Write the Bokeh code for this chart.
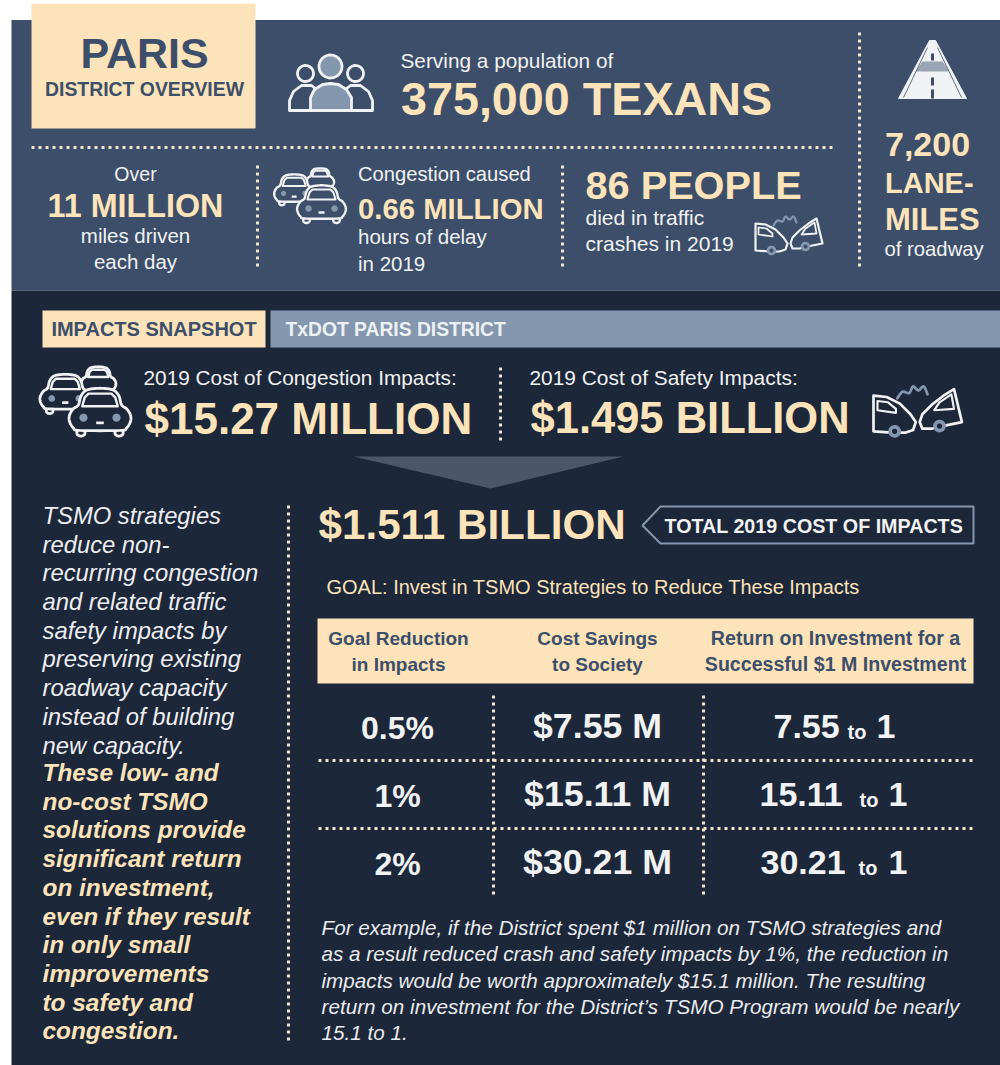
import numpy as np
from bokeh.plotting import figure
from bokeh.models import Range1d
from bokeh.core.properties import value
from bokeh.embed import file_html
from bokeh.resources import INLINE

# ---- content ----
DISTRICT = "PARIS"
DISTRICT_SUB = "DISTRICT OVERVIEW"
POP_LABEL = "Serving a population of"
POP_VALUE = "375,000 TEXANS"
MILES_LINES = ["Over", "11 MILLION", "miles driven", "each day"]
DELAY_LINES = ["Congestion caused", "0.66 MILLION", "hours of delay", "in 2019"]
DEATH_LINES = ["86 PEOPLE", "died in traffic", "crashes in 2019"]
LANE_LINES = ["7,200", "LANE-", "MILES", "of roadway"]
SNAPSHOT = "IMPACTS SNAPSHOT"
SNAPSHOT_DISTRICT = "TxDOT PARIS DISTRICT"
COST_LABELS = ["2019 Cost of Congestion Impacts:", "2019 Cost of Safety Impacts:"]
COST_VALUES = ["$15.27 MILLION", "$1.495 BILLION"]
TOTAL_VALUE = "$1.511 BILLION"
TOTAL_LABEL = "TOTAL 2019 COST OF IMPACTS"
GOAL = "GOAL: Invest in TSMO Strategies to Reduce These Impacts"
HEAD_1 = ["Goal Reduction", "in Impacts"]
HEAD_2 = ["Cost Savings", "to Society"]
HEAD_3 = ["Return on Investment for a", "Successful $1 M Investment"]
REDUCTION = ["0.5%", "1%", "2%"]
SAVINGS = ["$7.55 M", "$15.11 M", "$30.21 M"]
ROI = ["7.55", "15.11", "30.21"]
SIDE_PLAIN = ["TSMO strategies", "reduce non-", "recurring congestion", "and related traffic",
              "safety impacts by", "preserving existing", "roadway capacity",
              "instead of building", "new capacity."]
SIDE_BOLD = ["These low- and", "no-cost TSMO", "solutions provide", "significant return",
             "on investment,", "even if they result", "in only small", "improvements",
             "to safety and", "congestion."]
NOTE = ["For example, if the District spent $1 million on TSMO strategies and",
        "as a result reduced crash and safety impacts by 1%, the reduction in",
        "impacts would be worth approximately $15.1 million. The resulting",
        "return on investment for the District\u2019s TSMO Program would be nearly",
        "15.1 to 1."]

# ---- palette ----
SLATE = "#3c4e69"
NAVY = "#1c2739"
CREAM = "#fde3b9"
STEEL = "#8497ae"
WHITE = "#f1f2f3"
DOT = "#f3e6cc"
FONT = "Liberation Sans"

p = figure(width=1000, height=1065, x_range=Range1d(0, 1000), y_range=Range1d(1065, 0),
           x_axis_type=None, y_axis_type=None, toolbar_location=None, output_backend="svg",
           min_border=0, outline_line_color=None, background_fill_color="#ffffff",
           border_fill_color="#ffffff")
p.grid.visible = False


def T(x, y, text, size, color=WHITE, style="normal", align="left"):
    p.text(x=[x], y=[y - 0.37 * size], text=[text], text_font=value(FONT),
           text_font_size=f"{size}px", text_color=color, text_font_style=style,
           text_align=align, text_baseline="alphabetic")


def box(x0, y0, x1, y1, color):
    p.quad(left=[x0], right=[x1], top=[y0], bottom=[y1], fill_color=color, line_color=None)


def dots(xs, ys, color=DOT, w=3):
    p.line(x=xs, y=ys, line_color=color, line_width=w, line_dash="3 4")


def smooth(pts, closed=True, n=8):
    pts = np.array(pts, float)
    if closed:
        P = np.vstack([pts[-1], pts, pts[0], pts[1]])
    else:
        P = np.vstack([pts[0], pts, pts[-1]])
    out = []
    for i in range(1, len(P) - 2):
        for t in np.linspace(0, 1, n, endpoint=False):
            a, b, c, d = P[i - 1], P[i], P[i + 1], P[i + 2]
            out.append(0.5 * (2 * b + (c - a) * t + (2 * a - 5 * b + 4 * c - d) * t ** 2
                              + (3 * b - a - 3 * c + d) * t ** 3))
    if not closed:
        out.append(P[-2])
    return np.array(out)


def shape(pts, ox, oy, s, fill, line=WHITE, w=2.2, closed=True, sm=True, sy=None):
    sy = s if sy is None else sy
    q = smooth(pts, closed) if sm else np.array(pts, float)
    X, Y = ox + q[:, 0] * s, oy + q[:, 1] * sy
    if closed:
        p.patch(x=X, y=Y, fill_color=fill, line_color=line, line_width=w, line_join="round")
    else:
        p.line(x=X, y=Y, line_color=line, line_width=w, line_join="round", line_cap="round")


def disc(x, y, r, fill, line=None, w=2.2):
    t = np.linspace(0, 2 * np.pi, 40)
    p.patch(x=x + r * np.cos(t), y=y + r * np.sin(t), fill_color=fill,
            line_color=line, line_width=w if line else 0)


CAR_BODY = [(8, 33), (3, 31), (0, 26), (0, 21), (3, 16), (7, 13), (9, 6), (13, 1.5), (20, 0),
            (28, 0), (35, 1.5), (39, 6), (41, 13), (45, 16), (48, 21), (48, 26), (45, 31), (40, 33)]
CAR_GLASS = [(10, 14), (12, 7), (15, 4), (33, 4), (36, 7), (38, 14)]


def car(ox, oy, s, bg, w=2.2, lights=True):
    for wx in (9, 39):
        shape([(wx - 3, 32), (wx - 3, 36), (wx, 37.5), (wx + 3, 36), (wx + 3, 32)], ox, oy, s,
              bg, w=w, closed=False)
    shape(CAR_BODY, ox, oy, s, bg, w=w)
    shape(CAR_GLASS, ox, oy, s, bg, w=w * 0.85, sm=False)
    if lights:
        disc(ox + 11 * s, oy + 23 * s, 3.2 * s, STEEL)
        disc(ox + 37 * s, oy + 23 * s, 3.2 * s, STEEL)
        p.line(x=[ox + 21 * s, ox + 27 * s], y=[oy + 27 * s, oy + 27 * s], line_color=WHITE,
               line_width=w)


def cars(ox, oy, s, bg, w=2.4):
    car(ox + 9 * s, oy - 17 * s, 0.57 * s, bg, w, lights=False)
    car(ox - 23 * s, oy - 11 * s, 0.82 * s, bg, w)
    car(ox, oy, s, bg, w)


def crash(ox, oy, s, bg, w=2.2):
    shape([(18, 12), (22, 7), (27, 8), (30, 3), (34, 6), (38, 3), (41, 9)], ox, oy, s, bg,
          line=STEEL, w=w, closed=False)
    shape([(0, 10), (10, 11), (20, 16), (28, 24), (32, 30), (30, 36), (24, 38), (14, 38),
           (0, 37)], ox, oy, s, bg, w=w, sm=False)
    shape([(3, 14), (11, 15), (17, 20), (17, 23), (3, 21)], ox, oy, s, bg, w=w * 0.8, sm=False)
    shape([(61, 5), (53, 10), (44, 17), (37, 24), (35, 30), (37, 35), (44, 35), (52, 33),
           (67, 30)], ox, oy, s, bg, w=w, sm=False)
    shape([(59, 9), (50, 15), (46, 21), (61, 20)], ox, oy, s, bg, w=w * 0.8, sm=False)
    disc(ox + 16 * s, oy + 37 * s, 4.8 * s, STEEL)
    disc(ox + 16 * s, oy + 37 * s, 2 * s, bg)
    disc(ox + 50 * s, oy + 33 * s, 4.8 * s, STEEL)
    disc(ox + 50 * s, oy + 33 * s, 2 * s, bg)


# ---- panels ----
box(11, 19.5, 1000, 290, SLATE)
box(11, 290, 1000, 1065, NAVY)
box(31, 3, 255, 128, CREAM)

# ---- header block ----
T(144, 68, DISTRICT, 43, SLATE, "bold", "center")
T(144, 96, DISTRICT_SUB, 19.4, SLATE, "bold", "center")
T(400, 68, POP_LABEL, 20.8)
T(400.5, 116, POP_VALUE, 46.7, CREAM, "bold")

# people icon
shape([(289, 110), (289, 100), (293, 91), (301, 85), (311, 85), (320, 92), (320, 110)], 0, 0, 1,
      SLATE, w=2.8, sm=False)
shape([(372, 110), (372, 100), (368, 91), (360, 85), (350, 85), (341, 92), (341, 110)], 0, 0, 1,
      SLATE, w=2.8, sm=False)
disc(305, 73, 8, SLATE, WHITE, 2.8)
disc(355, 73, 8, SLATE, WHITE, 2.8)
shape([(310, 110), (310, 97), (314, 89), (322, 84), (330, 83), (338, 84), (346, 89), (351, 97),
       (351, 110)], 0, 0, 1, STEEL, w=2.8, sm=False)
disc(330, 66, 11.5, STEEL, WHITE, 2.8)

# road icon
p.patch(x=[929, 935, 966, 898], y=[40, 40, 98, 98], fill_color=WHITE, line_color=WHITE,
        line_width=1)
p.patch(x=[922, 942, 949, 915], y=[61, 61, 71, 71], fill_color="#9aa6b6", line_color=None)
p.line(x=[927, 903], y=[47, 97], line_color=SLATE, line_width=0.8)
p.line(x=[937, 961], y=[47, 97], line_color=SLATE, line_width=0.8)
p.quad(left=[930.5, 930.5, 930.5], right=[933.5, 933.5, 933.5], top=[53, 77, 89],
       bottom=[60, 85, 98], fill_color=SLATE, line_color=None)

dots([31, 834], [147, 147])
dots([257, 257], [165, 268])
dots([562, 562], [165, 268])
dots([859, 859], [32, 268])

T(135, 181, MILES_LINES[0], 19.5, align="center")
T(135, 217, MILES_LINES[1], 32.3, CREAM, "bold", "center")
T(135, 243, MILES_LINES[2], 20.5, align="center")
T(135, 269, MILES_LINES[3], 20.5, align="center")

cars(297, 185, 1.0, SLATE)
T(357.5, 181, DELAY_LINES[0], 20.2)
T(357.5, 219, DELAY_LINES[1], 29.3, CREAM, "bold")
T(357.5, 244, DELAY_LINES[2], 20.5)
T(357.5, 271, DELAY_LINES[3], 20.5)

T(585, 199, DEATH_LINES[0], 39.7, CREAM, "bold")
T(585, 225, DEATH_LINES[1], 21)
T(585, 251, DEATH_LINES[2], 21)
crash(755, 213, 1.0, SLATE)

T(884.5, 157, LANE_LINES[0], 34, CREAM, "bold")
T(884.5, 193, LANE_LINES[1], 29, CREAM, "bold")
T(884.5, 230, LANE_LINES[2], 31, CREAM, "bold")
T(884, 256, LANE_LINES[3], 20.3)

# ---- snapshot ----
box(42, 310, 265, 347, CREAM)
box(270, 310, 1000, 347, STEEL)
T(153.5, 336, SNAPSHOT, 20, SLATE, "bold", "center")
T(285, 336, SNAPSHOT_DISTRICT, 19.3, "#eef1f4", "bold")

cars(69, 388, 1.27, NAVY, 2.8)
T(143, 385, COST_LABELS[0], 20.8)
T(144, 434, COST_VALUES[0], 44, CREAM, "bold")
dots([500, 500], [367, 440])
T(529, 385, COST_LABELS[1], 20.9)
T(530, 434, COST_VALUES[1], 43.5, CREAM, "bold")
crash(873, 382, 1.32, NAVY, 2.7)

p.patch(x=[353, 623, 490], y=[456, 456, 488], fill_color="#4b566a", line_color=None)

# ---- total ----
T(318, 539.5, TOTAL_VALUE, 42.2, CREAM, "bold")
p.patch(x=[642, 660, 973, 973, 660], y=[525, 506, 506, 543, 543], fill_color=None,
        line_color=STEEL, line_width=2)
T(664, 533, TOTAL_LABEL, 19.7, WHITE, "bold")
T(326, 594, GOAL, 20, CREAM)

# ---- table ----
box(317, 618, 973, 683, CREAM)
for cx, size, head in ((398, 19, HEAD_1), (597, 19, HEAD_2), (835, 19.6, HEAD_3)):
    T(cx, 645, head[0], size, SLATE, "bold", "center")
    T(cx, 671, head[1], size, SLATE, "bold", "center")

dots([493, 493], [695, 898])
dots([703, 703], [695, 898])
dots([318, 973], [760, 760])
dots([318, 973], [828, 828])

ROW_BASE = [739, 807, 875]
ROI_X = [(773, 847, 876), (759, 859, 888), (760, 858, 888)]
for i, by in enumerate(ROW_BASE):
    T(397, by, REDUCTION[i], 32, WHITE, "bold", "center")
    T(597, by, SAVINGS[i], 35.7, WHITE, "bold", "center")
    x0, x1, x2 = ROI_X[i]
    T(x0, by, ROI[i], 34, WHITE, "bold")
    T(x1, by, "to", 20, WHITE, "bold")
    T(x2, by, "1", 34, WHITE, "bold")

# ---- side text ----
dots([288, 288], [505, 1040])
for i, line in enumerate(SIDE_PLAIN):
    T(42, 523.7 + 28.72 * i, line, 23.8, "#eceef1", "italic")
for i, line in enumerate(SIDE_BOLD):
    T(42, 781 + 28.72 * i, line, 24.4, CREAM, "bold italic")

# ---- footnote ----
for i, line in enumerate(NOTE):
    T(321, 934.5 + 26.4 * i, line, 20.7, "#e9ebee", "italic")

open("out.html", "w").write(file_html(p, INLINE))
